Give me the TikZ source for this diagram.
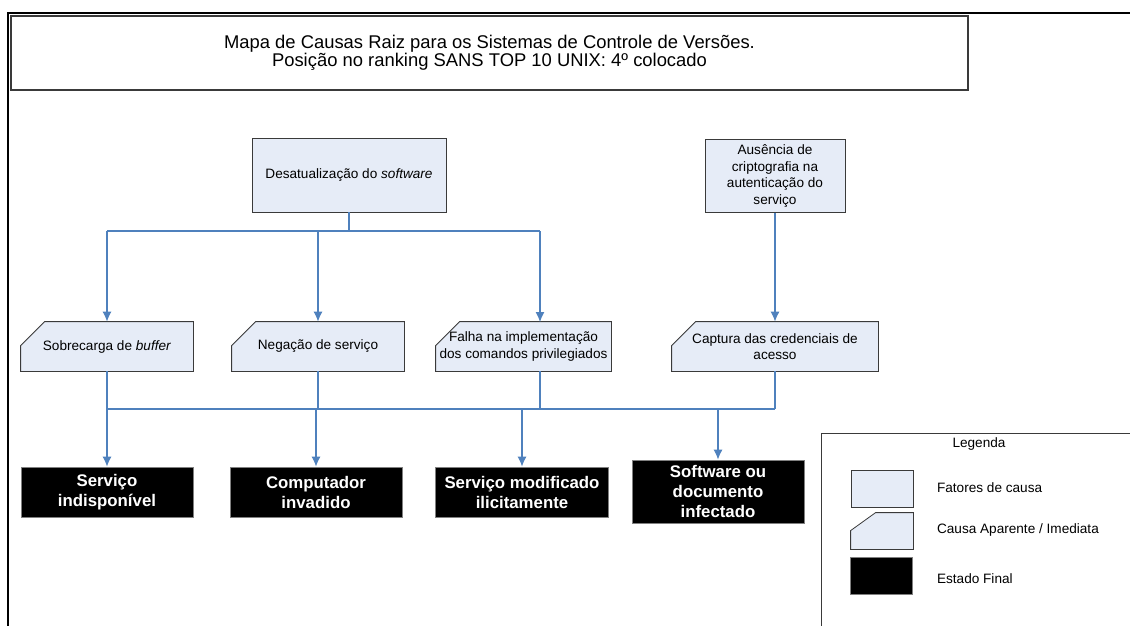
\documentclass[tikz,border=0pt]{standalone}
\usepackage{fontspec}
\setmainfont{Liberation Sans}
\usetikzlibrary{arrows.meta,backgrounds}

\definecolor{linkblue}{HTML}{4F81BD}
\definecolor{boxfill}{HTML}{E6ECF7}
\definecolor{boxline}{HTML}{3A3A3A}

\tikzset{
  fator/.style={draw=boxline, fill=boxfill, align=center, inner sep=1pt,
    font=\fontsize{6.8}{8.3}\selectfont},
  causa/.style={align=center, inner sep=1pt, font=\fontsize{6.8}{8.3}\selectfont},
  causafundo/.style={draw=boxline, fill=boxfill},
  final/.style={draw=gray, fill=black, text=white, align=center, inner sep=1pt,
    font=\bfseries\fontsize{8.4}{10}\selectfont},
  conn/.style={draw=linkblue, line width=0.55pt},
  connarrow/.style={conn, -{Latex[length=5pt,width=4.5pt]}}
}

\begin{document}
\begin{tikzpicture}[x=0.5pt,y=-0.5pt]
  \useasboundingbox (0,0) rectangle (1130,626);
  \clip (0,0) rectangle (1130,626);

  % moldura
  \draw[line width=1.3pt] (8,640) -- (8,13) -- (1140,13);

  % titulo
  \node[draw=boxline, line width=0.7pt, minimum width=478.5pt, minimum height=37pt,
    align=center, font=\fontsize{9.2}{9}\selectfont] (titulo) at (489.5,53)
    {Mapa de Causas Raiz para os Sistemas de Controle de Versões.\\
     Posição no ranking SANS TOP 10 UNIX: 4º colocado};

  % fatores de causa
  \node[fator, minimum width=97pt, minimum height=37pt] (desat) at (349,175)
    {Desatualização do \textit{software}};
  \node[fator, minimum width=70pt, minimum height=36.5pt] (ausencia) at (775,176)
    {Ausência de\\criptografia na\\autenticação do\\serviço};

  % causas aparentes
  \node[causa, minimum width=86pt, minimum height=24.5pt] (sobre) at (107,346.5)
    {Sobrecarga de \textit{buffer}};
  \node[causa, minimum width=86pt, minimum height=24.5pt] (negacao) at (318,346.5)
    {Negação de serviço};
  \node[causa, minimum width=87.5pt, minimum height=24.5pt] (falha) at (523.5,346.5)
    {Falha na implementação\\dos comandos privilegiados};
  \node[causa, minimum width=103pt, minimum height=24.5pt] (captura) at (775,346.5)
    {Captura das credenciais de\\acesso};
  \begin{scope}[on background layer]
    \foreach \n in {sobre,negacao,falha,captura}
      \path[causafundo] ([xshift=12pt]\n.north west) -- (\n.north east)
        -- (\n.south east) -- (\n.south west) -- ([yshift=-12pt]\n.north west) -- cycle;
  \end{scope}

  % estados finais
  \node[final, minimum width=86pt, minimum height=25pt] (servico) at (107,492)
    {Serviço\\indisponível};
  \node[final, minimum width=86pt, minimum height=25pt] (computador) at (316,492)
    {Computador\\invadido};
  \node[final, minimum width=86.5pt, minimum height=25pt] (modificado) at (522,492)
    {Serviço modificado\\ilicitamente};
  \node[final, minimum width=86pt, minimum height=31.5pt] (infectado) at (718,491.5)
    {Software ou\\documento\\infectado};

  % ligacoes de cima
  \coordinate (barraA) at (0,231);
  \coordinate (falhain) at (540,322);
  \draw[conn] (desat.south) -- (desat.south |- barraA);
  \draw[conn] (sobre.north |- barraA) -- (falhain |- barraA);
  \foreach \n in {sobre,negacao}
    \draw[connarrow] (\n.north |- barraA) -- (\n.north);
  \draw[connarrow] (falhain |- barraA) -- (falhain);
  \draw[connarrow] (ausencia.south) -- (captura.north);

  % ligacoes de baixo
  \coordinate (barraB) at (0,409);
  \coordinate (falhaout) at (540,371);
  \foreach \n in {sobre,negacao,captura}
    \draw[conn] (\n.south) -- (\n.south |- barraB);
  \draw[conn] (falhaout) -- (falhaout |- barraB);
  \draw[conn] (sobre.south |- barraB) -- (captura.south |- barraB);
  \foreach \n in {servico,computador,modificado,infectado}
    \draw[connarrow] (\n.north |- barraB) -- (\n.north);

  % legenda
  \draw[boxline, line width=0.5pt] (821,433) rectangle (1140,640);
  \node[font=\fontsize{6.8}{8}\selectfont] (legenda) at (979,444) {Legenda};
  \node[fator, minimum width=31pt, minimum height=18.5pt] (legfator) at (882,488.5) {};
  \node[causa, minimum width=31pt, minimum height=18pt] (legcausa) at (882,531) {};
  \begin{scope}[on background layer]
    \path[causafundo] ([xshift=12.5pt]legcausa.north west) -- (legcausa.north east)
      -- (legcausa.south east) -- (legcausa.south west)
      -- ([yshift=-9pt]legcausa.north west) -- cycle;
  \end{scope}
  \node[final, minimum width=31pt, minimum height=18.5pt] (legfinal) at (881,575.5) {};
  \node[anchor=west, font=\fontsize{6.8}{8}\selectfont] at (930,488) {Fatores de causa};
  \node[anchor=west, font=\fontsize{6.8}{8}\selectfont] at (930,530) {Causa Aparente / Imediata};
  \node[anchor=west, font=\fontsize{6.8}{8}\selectfont] at (930,579) {Estado Final};
\end{tikzpicture}
\end{document}
